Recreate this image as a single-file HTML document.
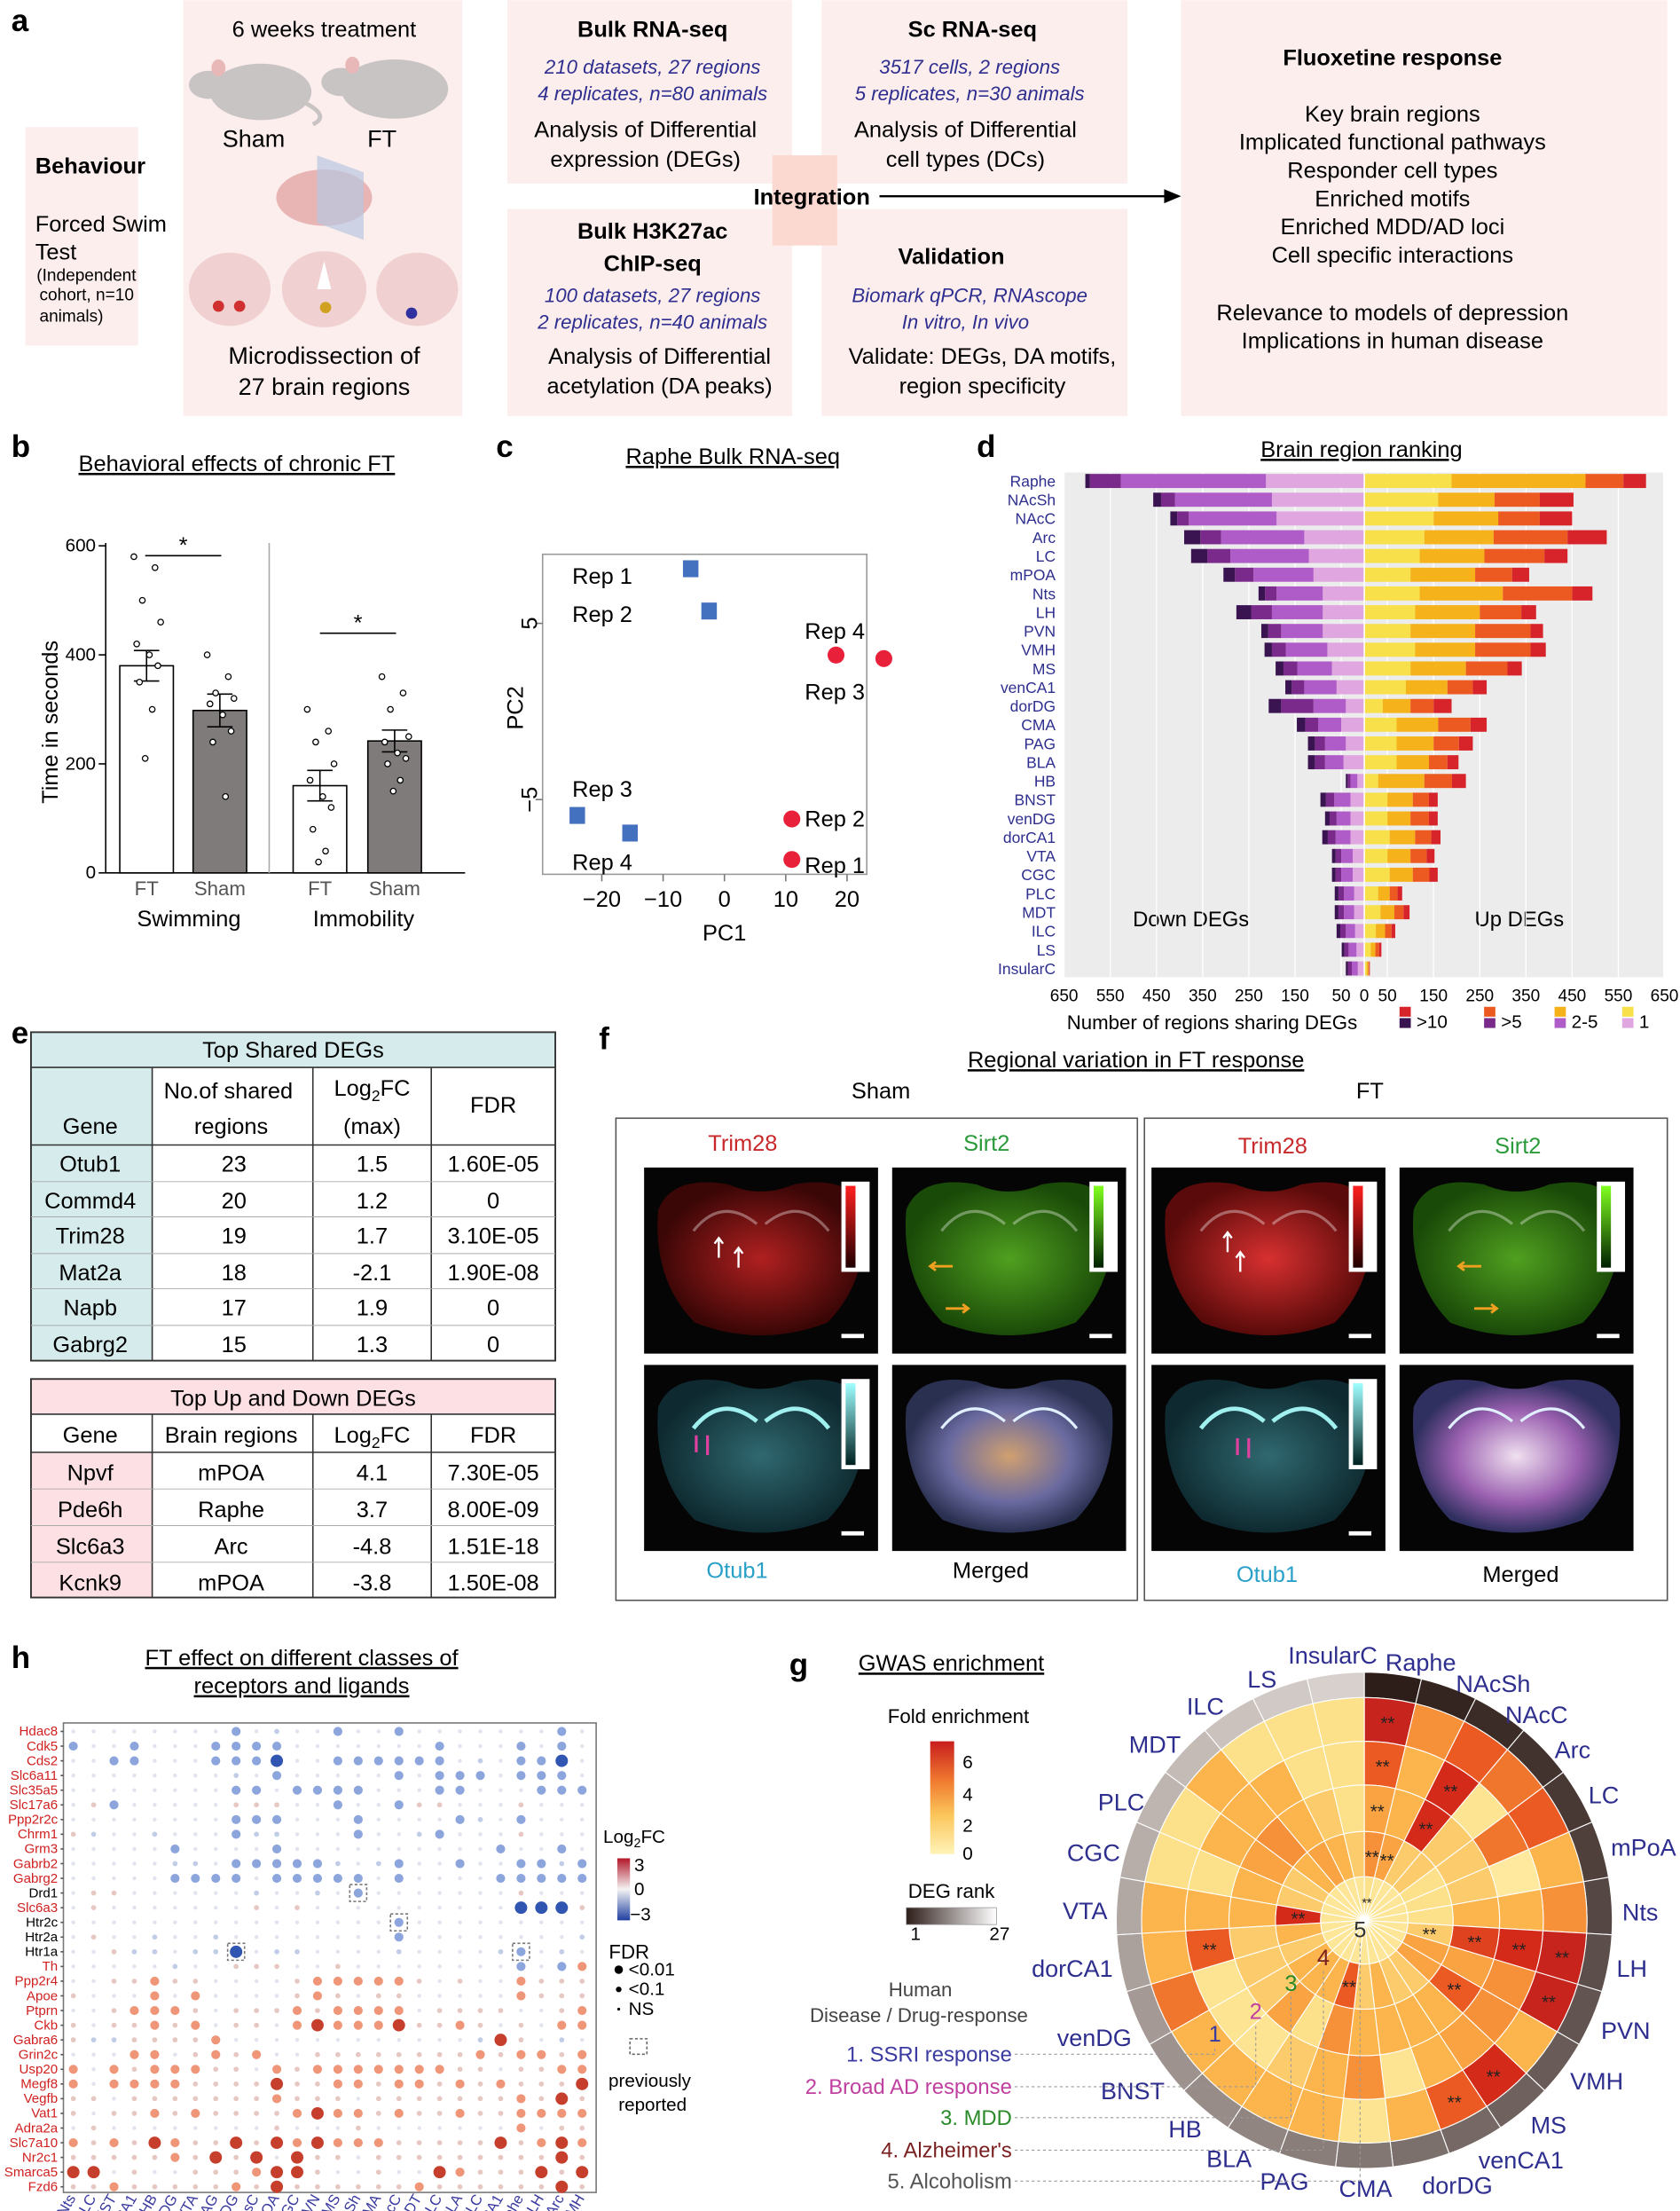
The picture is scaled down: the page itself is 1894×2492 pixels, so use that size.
<!DOCTYPE html>
<html><head><meta charset="utf-8">
<style>
html,body{margin:0;padding:0;background:#fff;}
svg{display:block;font-family:"Liberation Sans",Arial,sans-serif;}
.bt{font-weight:bold;}
.bl{fill:#2e2e8f;font-style:italic;}
</style></head>
<body>
<svg id="fig" width="1894" height="2492" viewBox="0 0 1192 1568" xmlns="http://www.w3.org/2000/svg">
<defs>
<linearGradient id="gRank" x1="0" x2="1" y1="0" y2="0"><stop offset="0" stop-color="#2e1e1a"/><stop offset="1" stop-color="#ffffff"/></linearGradient>
<linearGradient id="gFold" x1="0" x2="0" y1="1" y2="0"><stop offset="0" stop-color="#fff3b8"/><stop offset="0.35" stop-color="#fbc55a"/><stop offset="0.65" stop-color="#f07a30"/><stop offset="1" stop-color="#c81e1e"/></linearGradient>
<linearGradient id="gFC" x1="0" x2="0" y1="0" y2="1"><stop offset="0" stop-color="#b2182b"/><stop offset="0.5" stop-color="#f4f4f4"/><stop offset="1" stop-color="#2040a0"/></linearGradient>
<linearGradient id="cbR" x1="0" x2="0" y1="0" y2="1"><stop offset="0" stop-color="#ff2020"/><stop offset="1" stop-color="#200000"/></linearGradient>
<linearGradient id="cbG" x1="0" x2="0" y1="0" y2="1"><stop offset="0" stop-color="#80ff20"/><stop offset="1" stop-color="#002000"/></linearGradient>
<linearGradient id="cbC" x1="0" x2="0" y1="0" y2="1"><stop offset="0" stop-color="#a0ffff"/><stop offset="1" stop-color="#002020"/></linearGradient>
<radialGradient id="brR"><stop offset="0" stop-color="#b02020"/><stop offset="1" stop-color="#3a0606"/></radialGradient>
<radialGradient id="brR2"><stop offset="0" stop-color="#d83030"/><stop offset="1" stop-color="#5a0a0a"/></radialGradient>
<radialGradient id="brG"><stop offset="0" stop-color="#50a020"/><stop offset="1" stop-color="#1a4a08"/></radialGradient>
<radialGradient id="brC"><stop offset="0" stop-color="#306870"/><stop offset="1" stop-color="#0e2a30"/></radialGradient>
<radialGradient id="brM"><stop offset="0" stop-color="#d0a070"/><stop offset="0.6" stop-color="#6a6aa0"/><stop offset="1" stop-color="#2a3050"/></radialGradient>
<radialGradient id="brM2"><stop offset="0" stop-color="#f0e0f0"/><stop offset="0.6" stop-color="#9a60b0"/><stop offset="1" stop-color="#303060"/></radialGradient>
</defs>

<g>
<text x="8" y="22" font-size="22" class="bt">a</text>
<rect x="18" y="90" width="80" height="155" fill="#fdeeee"/>
<text x="25" y="123" font-size="16" class="bt">Behaviour</text>
<text x="25" y="164" font-size="16">Forced Swim</text>
<text x="25" y="184" font-size="16">Test</text>
<text x="26" y="199" font-size="12">(Independent</text>
<text x="28" y="213" font-size="12">cohort, n=10</text>
<text x="28" y="228" font-size="12">animals)</text>

<rect x="130" y="0" width="198" height="295" fill="#fdeeee"/>
<text x="230" y="26" font-size="16" text-anchor="middle">6 weeks treatment</text>
<g fill="#c9c4c4">
<ellipse cx="185" cy="65" rx="36" ry="20"/><ellipse cx="148" cy="60" rx="14" ry="10"/><ellipse cx="155" cy="48" rx="5" ry="6" fill="#e8b8b8"/><path d="M215 72 Q235 82 222 88" stroke="#c9c4c4" stroke-width="3" fill="none"/>
</g>
<g fill="#c9c4c4">
<ellipse cx="280" cy="63" rx="38" ry="21"/><ellipse cx="242" cy="58" rx="14" ry="10"/><ellipse cx="250" cy="46" rx="5" ry="6" fill="#e8b8b8"/>
</g>
<text x="180" y="104" font-size="17" text-anchor="middle">Sham</text>
<text x="271" y="104" font-size="17" text-anchor="middle">FT</text>
<g>
<ellipse cx="230" cy="140" rx="34" ry="20" fill="#e8b4b4"/><polygon points="225,110 258,122 258,170 225,158" fill="#b8c8e0" opacity="0.7"/>
</g>
<g>
<ellipse cx="163" cy="205" rx="29" ry="26" fill="#f0d0d0"/><circle cx="155" cy="217" r="4" fill="#d03030"/><circle cx="170" cy="217" r="4" fill="#d03030"/>
<ellipse cx="230" cy="205" rx="30" ry="27" fill="#f0d0d0"/><polygon points="230,185 225,205 235,205" fill="#fff"/><circle cx="231" cy="218" r="4" fill="#d0a020"/>
<ellipse cx="296" cy="205" rx="29" ry="26" fill="#f0d0d0"/><circle cx="292" cy="222" r="4" fill="#3030a0"/>
</g>
<text x="230" y="258" font-size="17" text-anchor="middle">Microdissection of</text>
<text x="230" y="280" font-size="17" text-anchor="middle">27 brain regions</text>

<rect x="360" y="0" width="202" height="130" fill="#fdeeee"/>
<text x="463" y="26" font-size="16" class="bt" text-anchor="middle">Bulk RNA-seq</text>
<text x="463" y="52" font-size="14" class="bl" text-anchor="middle">210 datasets, 27 regions</text>
<text x="463" y="71" font-size="14" class="bl" text-anchor="middle">4 replicates, n=80 animals</text>
<text x="458" y="97" font-size="16" text-anchor="middle">Analysis of Differential</text>
<text x="458" y="118" font-size="16" text-anchor="middle">expression (DEGs)</text>

<rect x="583" y="0" width="217" height="130" fill="#fdeeee"/>
<text x="690" y="26" font-size="16" class="bt" text-anchor="middle">Sc RNA-seq</text>
<text x="688" y="52" font-size="14" class="bl" text-anchor="middle">3517 cells, 2 regions</text>
<text x="688" y="71" font-size="14" class="bl" text-anchor="middle">5 replicates, n=30 animals</text>
<text x="685" y="97" font-size="16" text-anchor="middle">Analysis of Differential</text>
<text x="685" y="118" font-size="16" text-anchor="middle">cell types (DCs)</text>

<rect x="360" y="148" width="202" height="147" fill="#fdeeee"/>
<text x="463" y="169" font-size="16" class="bt" text-anchor="middle">Bulk H3K27ac</text>
<text x="463" y="192" font-size="16" class="bt" text-anchor="middle">ChIP-seq</text>
<text x="463" y="214" font-size="14" class="bl" text-anchor="middle">100 datasets, 27 regions</text>
<text x="463" y="233" font-size="14" class="bl" text-anchor="middle">2 replicates, n=40 animals</text>
<text x="468" y="258" font-size="16" text-anchor="middle">Analysis of Differential</text>
<text x="468" y="279" font-size="16" text-anchor="middle">acetylation (DA peaks)</text>

<rect x="583" y="148" width="217" height="147" fill="#fdeeee"/>
<text x="675" y="187" font-size="16" class="bt" text-anchor="middle">Validation</text>
<text x="688" y="214" font-size="14" class="bl" text-anchor="middle">Biomark qPCR, RNAscope</text>
<text x="685" y="233" font-size="14" class="bl" text-anchor="middle">In vitro, In vivo</text>
<text x="697" y="258" font-size="16" text-anchor="middle">Validate: DEGs, DA motifs,</text>
<text x="697" y="279" font-size="16" text-anchor="middle">region specificity</text>

<rect x="548" y="110" width="46" height="64" fill="#fbd8d0"/>
<text x="576" y="145" font-size="16" class="bt" text-anchor="middle">Integration</text>
<line x1="624" y1="139" x2="830" y2="139" stroke="#000" stroke-width="1.5"/>
<polygon points="838,139 826,134 826,144" fill="#000"/>

<rect x="838" y="0" width="345" height="295" fill="#fdeeee"/>
<text x="988" y="46" font-size="16" class="bt" text-anchor="middle">Fluoxetine response</text>
<g font-size="16" text-anchor="middle">
<text x="988" y="86">Key brain regions</text>
<text x="988" y="106">Implicated functional pathways</text>
<text x="988" y="126">Responder cell types</text>
<text x="988" y="146">Enriched motifs</text>
<text x="988" y="166">Enriched MDD/AD loci</text>
<text x="988" y="186">Cell specific interactions</text>
<text x="988" y="227">Relevance to models of depression</text>
<text x="988" y="247">Implications in human disease</text>
</g>
</g>

<g id="panelB">
<text x="8" y="324" font-size="22" class="bt">b</text>
<text x="168" y="334" font-size="16" text-anchor="middle" text-decoration="underline">Behavioral effects of chronic FT</text>
<text x="41" y="512" font-size="16" text-anchor="middle" transform="rotate(-90 41 512)">Time in seconds</text>
<text x="134" y="657" font-size="16" text-anchor="middle">Swimming</text>
<text x="258" y="657" font-size="16" text-anchor="middle">Immobility</text>
</g>

<g id="panelC">
<text x="352" y="324" font-size="22" class="bt">c</text>
<text x="520" y="329" font-size="16" text-anchor="middle" text-decoration="underline">Raphe Bulk RNA-seq</text>
<rect x="385" y="393" width="230" height="227" fill="none" stroke="#999"/>
<text x="514" y="667" font-size="16" text-anchor="middle">PC1</text>
<text x="371" y="502" font-size="16" text-anchor="middle" transform="rotate(-90 371 502)">PC2</text>
</g>

<g id="panelD">
<text x="693" y="324" font-size="22" class="bt">d</text>
<text x="966" y="324" font-size="16" text-anchor="middle" text-decoration="underline">Brain region ranking</text>
<rect x="755" y="335" width="425" height="358" fill="#ececec"/>
<text x="845" y="657" font-size="15" text-anchor="middle">Down DEGs</text>
<text x="1078" y="657" font-size="15" text-anchor="middle">Up DEGs</text>
<text x="860" y="730" font-size="14" text-anchor="middle">Number of regions sharing DEGs</text>
<g font-size="13">
<rect x="993" y="714" width="8" height="7" fill="#d6242a"/><rect x="993" y="722" width="8" height="7" fill="#3a1450"/><text x="1005" y="729">&gt;10</text>
<rect x="1053" y="714" width="8" height="7" fill="#ec5a22"/><rect x="1053" y="722" width="8" height="7" fill="#7a2a8a"/><text x="1065" y="729">&gt;5</text>
<rect x="1103" y="714" width="8" height="7" fill="#f5b21a"/><rect x="1103" y="722" width="8" height="7" fill="#b05cc8"/><text x="1115" y="729">2-5</text>
<rect x="1151" y="714" width="8" height="7" fill="#f7e04a"/><rect x="1151" y="722" width="8" height="7" fill="#e0a6e0"/><text x="1163" y="729">1</text>
</g>
</g>

<g>
<text x="8" y="740" font-size="22" class="bt">e</text>
<g font-size="16">
<rect x="22" y="732" width="372" height="25" fill="#d6ecec"/>
<rect x="22" y="757" width="86" height="208" fill="#d6ecec"/>
<rect x="22" y="732" width="372" height="233" fill="none" stroke="#333" stroke-width="1.2"/>
<line x1="22" y1="757" x2="394" y2="757" stroke="#333"/>
<line x1="22" y1="812" x2="394" y2="812" stroke="#333"/>
<g stroke="#333"><line x1="108" y1="757" x2="108" y2="965"/><line x1="222" y1="757" x2="222" y2="965"/><line x1="306" y1="757" x2="306" y2="965"/></g>
<g stroke="#aaa" stroke-width="0.6"><line x1="22" y1="838" x2="394" y2="838"/><line x1="22" y1="863" x2="394" y2="863"/><line x1="22" y1="889" x2="394" y2="889"/><line x1="22" y1="914" x2="394" y2="914"/><line x1="22" y1="940" x2="394" y2="940"/></g>
<text x="208" y="750" text-anchor="middle">Top Shared DEGs</text>
<text x="64" y="804" text-anchor="middle">Gene</text>
<text x="162" y="779" text-anchor="middle">No.of shared</text><text x="164" y="804" text-anchor="middle">regions</text>
<text x="264" y="777" text-anchor="middle">Log<tspan font-size="11" dy="4">2</tspan><tspan dy="-4">FC</tspan></text><text x="264" y="804" text-anchor="middle">(max)</text>
<text x="350" y="789" text-anchor="middle">FDR</text>
<g text-anchor="middle">
<text x="64" y="831">Otub1</text><text x="166" y="831">23</text><text x="264" y="831">1.5</text><text x="350" y="831">1.60E-05</text>
<text x="64" y="857">Commd4</text><text x="166" y="857">20</text><text x="264" y="857">1.2</text><text x="350" y="857">0</text>
<text x="64" y="882">Trim28</text><text x="166" y="882">19</text><text x="264" y="882">1.7</text><text x="350" y="882">3.10E-05</text>
<text x="64" y="908">Mat2a</text><text x="166" y="908">18</text><text x="264" y="908">-2.1</text><text x="350" y="908">1.90E-08</text>
<text x="64" y="933">Napb</text><text x="166" y="933">17</text><text x="264" y="933">1.9</text><text x="350" y="933">0</text>
<text x="64" y="959">Gabrg2</text><text x="166" y="959">15</text><text x="264" y="959">1.3</text><text x="350" y="959">0</text>
</g>
</g>
<g font-size="16">
<rect x="22" y="978" width="372" height="25" fill="#fde0e4"/>
<rect x="22" y="1030" width="86" height="103" fill="#fde0e4"/>
<rect x="22" y="978" width="372" height="155" fill="none" stroke="#333" stroke-width="1.2"/>
<line x1="22" y1="1003" x2="394" y2="1003" stroke="#333"/>
<line x1="22" y1="1030" x2="394" y2="1030" stroke="#333"/>
<g stroke="#333"><line x1="108" y1="1003" x2="108" y2="1133"/><line x1="222" y1="1003" x2="222" y2="1133"/><line x1="306" y1="1003" x2="306" y2="1133"/></g>
<g stroke="#aaa" stroke-width="0.6"><line x1="22" y1="1056" x2="394" y2="1056"/><line x1="22" y1="1082" x2="394" y2="1082"/><line x1="22" y1="1108" x2="394" y2="1108"/></g>
<text x="208" y="997" text-anchor="middle">Top Up and Down DEGs</text>
<g text-anchor="middle">
<text x="64" y="1023">Gene</text><text x="164" y="1023">Brain regions</text><text x="264" y="1023">Log<tspan font-size="11" dy="4">2</tspan><tspan dy="-4">FC</tspan></text><text x="350" y="1023">FDR</text>
<text x="64" y="1050">Npvf</text><text x="164" y="1050">mPOA</text><text x="264" y="1050">4.1</text><text x="350" y="1050">7.30E-05</text>
<text x="64" y="1076">Pde6h</text><text x="164" y="1076">Raphe</text><text x="264" y="1076">3.7</text><text x="350" y="1076">8.00E-09</text>
<text x="64" y="1102">Slc6a3</text><text x="164" y="1102">Arc</text><text x="264" y="1102">-4.8</text><text x="350" y="1102">1.51E-18</text>
<text x="64" y="1128">Kcnk9</text><text x="164" y="1128">mPOA</text><text x="264" y="1128">-3.8</text><text x="350" y="1128">1.50E-08</text>
</g>
</g>
</g>

<g id="panelF">
<text x="425" y="744" font-size="22" class="bt">f</text>
<text x="806" y="757" font-size="16" text-anchor="middle" text-decoration="underline">Regional variation in FT response</text>
<text x="625" y="779" font-size="16" text-anchor="middle">Sham</text>
<text x="972" y="779" font-size="16" text-anchor="middle">FT</text>
<rect x="437" y="793" width="370" height="342" fill="none" stroke="#555"/>
<rect x="812" y="793" width="371" height="342" fill="none" stroke="#555"/>
<g font-size="16" text-anchor="middle">
<text x="527" y="816" fill="#c8282a">Trim28</text>
<text x="700" y="816" fill="#2a9a3a">Sirt2</text>
<text x="523" y="1119" fill="#2aa0c8">Otub1</text>
<text x="703" y="1119">Merged</text>
<text x="903" y="818" fill="#c8282a">Trim28</text>
<text x="1077" y="818" fill="#2a9a3a">Sirt2</text>
<text x="899" y="1122" fill="#2aa0c8">Otub1</text>
<text x="1079" y="1122">Merged</text>
</g>
</g>

<g id="panelH">
<text x="8" y="1183" font-size="22" class="bt">h</text>
<text x="214" y="1181" font-size="16" text-anchor="middle" text-decoration="underline">FT effect on different classes of</text>
<text x="214" y="1201" font-size="16" text-anchor="middle" text-decoration="underline">receptors and ligands</text>
<rect x="45" y="1222" width="378" height="333" fill="none" stroke="#777"/>
<g font-size="13">
<text x="428" y="1307">Log<tspan font-size="9" dy="3">2</tspan><tspan dy="-3">FC</tspan></text>
<rect x="438" y="1318" width="9" height="44" fill="url(#gFC)"/>
<text x="450" y="1327">3</text><text x="450" y="1344">0</text><text x="447" y="1362">−3</text>
<text x="432" y="1389" font-size="14">FDR</text>
<circle cx="439" cy="1397" r="3"/><text x="446" y="1401">&lt;0.01</text>
<circle cx="439" cy="1411" r="2"/><text x="446" y="1415">&lt;0.1</text>
<circle cx="439" cy="1425" r="1"/><text x="446" y="1429">NS</text>
<rect x="447" y="1446" width="12" height="11" fill="none" stroke="#666" stroke-dasharray="2,1.5"/>
<text x="461" y="1480" text-anchor="middle">previously</text>
<text x="463" y="1497" text-anchor="middle">reported</text>
</g>
</g>

<g id="panelG">
<text x="560" y="1188" font-size="22" class="bt">g</text>
<text x="675" y="1185" font-size="16" text-anchor="middle" text-decoration="underline">GWAS enrichment</text>
<text x="680" y="1222" font-size="14" text-anchor="middle">Fold enrichment</text>
<rect x="660" y="1235" width="17" height="80" fill="url(#gFold)"/>
<g font-size="13"><text x="683" y="1254">6</text><text x="683" y="1277">4</text><text x="683" y="1299">2</text><text x="683" y="1319">0</text></g>
<text x="675" y="1346" font-size="14" text-anchor="middle">DEG rank</text>
<rect x="643" y="1353" width="64" height="12" fill="url(#gRank)" stroke="#999" stroke-width="0.5"/>
<text x="646" y="1376" font-size="13">1</text>
<text x="702" y="1376" font-size="13">27</text>
<text x="653" y="1416" font-size="14" text-anchor="middle" fill="#444">Human</text>
<text x="652" y="1434" font-size="14" text-anchor="middle" fill="#444">Disease / Drug-response</text>
<g font-size="15" text-anchor="end">
<text x="718" y="1462" fill="#3a3aa0">1. SSRI response</text>
<text x="718" y="1485" fill="#c040a0">2. Broad AD response</text>
<text x="718" y="1507" fill="#2a8a2a">3. MDD</text>
<text x="718" y="1530" fill="#7a2020">4. Alzheimer's</text>
<text x="718" y="1552" fill="#555">5. Alcoholism</text>
</g>
</g>
</svg>

<script>
const NS='http://www.w3.org/2000/svg';
function mk(tag,attrs,parent){const e=document.createElementNS(NS,tag);for(const k in attrs)e.setAttribute(k,attrs[k]);parent.appendChild(e);return e;}

/* ---------- Panel b data ---------- */
const bCats=['FT','Sham','FT','Sham'];
const bMeans=[380,298,160,242];
const bSem=[28,30,28,20];
const bDots=[[580,560,500,460,420,400,380,350,300,210],[400,360,330,320,310,290,260,240,140],[300,260,240,200,170,140,120,80,40,20],[360,330,300,250,240,220,210,200,170,150]];
const bTicks=[0,200,400,600];
(function(){
 const g=document.getElementById('panelB');
 const y=v=>619-v*(232/600);
 const cx=[104,156,227,280];
 const ax=mk('line',{x1:75,y1:385,x2:75,y2:619,stroke:'#000'},g);
 
 
 const bx=mk('line',{x1:75,y1:619,x2:330,y2:619,stroke:'#000'},g);
 
 
 const dv=mk('line',{x1:191,y1:385,x2:191,y2:619,stroke:'#aaa'},g);
 
 
 bTicks.forEach(t=>{mk('line',{x1:70,x2:75,y1:y(t),y2:y(t),stroke:'#000'},g);
  const tt=mk('text',{x:68,y:y(t)+4,'font-size':13,'text-anchor':'end'},g);tt.textContent=t;
  
  });
 const jit=[-9,6,-3,10,-7,2,8,-5,4,-1];
 bMeans.forEach((m,i)=>{
  const r=mk('rect',{x:cx[i]-19,y:y(m),width:38,height:619-y(m),fill:i%2?'#7f7b7b':'#fff',stroke:'#000'},g);
  
  
  mk('line',{x1:cx[i],x2:cx[i],y1:y(m+bSem[i]),y2:y(m-bSem[i]),stroke:'#000'},g);
  mk('line',{x1:cx[i]-9,x2:cx[i]+9,y1:y(m+bSem[i]),y2:y(m+bSem[i]),stroke:'#000'},g);
  mk('line',{x1:cx[i]-9,x2:cx[i]+9,y1:y(m-bSem[i]),y2:y(m-bSem[i]),stroke:'#000'},g);
  bDots[i].forEach((d,j)=>{const c=mk('circle',{cx:cx[i]+jit[j%10],cy:y(d),r:2,fill:'#fff',stroke:'#000','stroke-width':0.8},g);
   
   });
  const l=mk('text',{x:cx[i],y:635,'font-size':14,'text-anchor':'middle',fill:'#555'},g);l.textContent=bCats[i];
  
  
 });
 [[103,157,394],[227,281,449]].forEach(s=>{mk('line',{x1:s[0],x2:s[1],y1:s[2],y2:s[2],stroke:'#000'},g);
  const t=mk('text',{x:(s[0]+s[1])/2,y:s[2]-2,'font-size':16,'text-anchor':'middle'},g);t.textContent='*';
  
  });
})();

/* ---------- Panel c data ---------- */
const pcX=[-5.5,-2.5,-24,-15.4,18.2,26,11,11];
const pcY=[8.1,5.7,-5.9,-6.9,3.2,3.0,-6.1,-8.4];
const pcGroup=['FT','FT','FT','FT','Sham','Sham','Sham','Sham'];
const pcLabels=['Rep 1','Rep 2','Rep 3','Rep 4','Rep 4','Rep 3','Rep 2','Rep 1'];
const pcLabelPos=[[406,414],[406,441],[406,565],[406,617],[571,453],[571,496],[571,586],[571,619]];
const pcXTicks=[-20,-10,0,10,20];
const pcYTicks=[5,-5];
(function(){
 const g=document.getElementById('panelC');
 const X=v=>514+v*4.35, Y=v=>504.5-v*12.5;
 pcXTicks.forEach(t=>{mk('line',{x1:X(t),x2:X(t),y1:620,y2:625,stroke:'#777'},g);
  const tt=mk('text',{x:X(t),y:643,'font-size':16,'text-anchor':'middle'},g);tt.textContent=t<0?'−'+(-t):t;
  
  });
 pcYTicks.forEach(t=>{mk('line',{x1:380,x2:385,y1:Y(t),y2:Y(t),stroke:'#777'},g);
  const tt=mk('text',{x:381,y:Y(t),'font-size':16,'text-anchor':'middle',transform:`rotate(-90 381 ${Y(t)})`},g);tt.textContent=t<0?'−'+(-t):t;
  
  });
 pcX.forEach((v,i)=>{let e;
  if(pcGroup[i]==='FT'){e=mk('rect',{x:X(v)-5.5,y:Y(pcY[i])-6,width:11,height:12,fill:'#4470c0'},g);}
  else{e=mk('circle',{cx:X(v),cy:Y(pcY[i]),r:6,fill:'#e8203a'},g);}
  
  
  const t=mk('text',{x:pcLabelPos[i][0],y:pcLabelPos[i][1],'font-size':16},g);t.textContent=pcLabels[i];
  
  
 });
})();

/* ---------- Panel d data ---------- */
const dRegions=['Raphe','NAcSh','NAcC','Arc','LC','mPOA','Nts','LH','PVN','VMH','MS','venCA1','dorDG','CMA','PAG','BLA','HB','BNST','venDG','dorCA1','VTA','CGC','PLC','MDT','ILC','LS','InsularC'];
const downC1=[213,200,190,130,120,110,90,90,90,80,70,60,40,50,40,45,15,30,30,30,25,25,22,22,20,17,14];
const downC25=[314,210,190,180,170,130,100,110,90,90,75,70,70,50,45,40,15,35,30,32,25,25,22,22,20,17,13];
const downC5=[67,30,25,45,50,40,25,45,28,30,30,27,70,28,22,22,6,18,15,17,12,12,12,12,12,9,8];
const downC10=[10,17,15,35,35,25,14,32,15,16,17,14,27,18,15,15,4,12,10,12,8,8,8,8,8,6,5];
const upC1=[189,160,150,130,120,100,120,110,100,110,100,90,40,70,70,70,30,50,50,55,50,55,30,35,25,14,5];
const upC25=[290,122,140,150,140,140,180,140,140,130,120,90,60,90,80,70,100,55,50,55,50,50,25,30,20,10,4];
const upC5=[82,98,90,160,130,80,150,90,120,120,90,55,50,70,55,40,60,35,40,35,35,36,17,20,14,8,2];
const upC10=[49,73,70,85,50,37,44,32,27,33,31,30,39,35,30,24,30,19,19,20,17,18,10,13,8,5,1];
const dTicks=[650,550,450,350,250,150,50,0,50,150,250,350,450,550,650];
const dTickSide=[-1,-1,-1,-1,-1,-1,-1,0,1,1,1,1,1,1,1];
(function(){
 const g=document.getElementById('panelD');
 const k=213/650, c=968;
 const rowY=i=>341+i*13.3;
 dTicks.forEach((t,i)=>{const x=c+dTickSide[i]*t*k;
  mk('line',{x1:x,x2:x,y1:335,y2:693,stroke:'#fff','stroke-width':0.8},g);
  const tt=mk('text',{x:x,y:710,'font-size':12,'text-anchor':'middle'},g);tt.textContent=t;
  
  });
 const dCols=['#e0a6e0','#b05cc8','#7a2a8a','#3a1450'], uCols=['#f7e04a','#f5b21a','#ec5a22','#d6242a'];
 dRegions.forEach((r,i)=>{
  const y=rowY(i);
  const lt=mk('text',{x:749,y:y+4,'font-size':11,'text-anchor':'end',fill:'#2e2e8f'},g);lt.textContent=r;
  
  
  let acc=0;[downC1[i],downC25[i],downC5[i],downC10[i]].forEach((v,j)=>{
   const b=mk('rect',{x:c-(acc+v)*k,y:y-5,width:v*k,height:10,fill:dCols[j]},g);
   
   acc+=v;});
  acc=0;[upC1[i],upC25[i],upC5[i],upC10[i]].forEach((v,j)=>{
   const b=mk('rect',{x:c+acc*k,y:y-5,width:v*k,height:10,fill:uCols[j]},g);
   
   acc+=v;});
 });
 mk('line',{x1:c,x2:c,y1:335,y2:693,stroke:'#fff','stroke-width':1},g);
})();

/* ---------- Panel f images ---------- */
(function(){
 const g=document.getElementById('panelF');
 const imgs=[[457,828,'brR','cbR','sham-trim28-image'],[633,828,'brG','cbG','sham-sirt2-image'],[457,968,'brC','cbC','sham-otub1-image'],[633,968,'brM',null,'sham-merged-image'],
  [817,828,'brR2','cbR','ft-trim28-image'],[993,828,'brG','cbG','ft-sirt2-image'],[817,968,'brC','cbC','ft-otub1-image'],[993,968,'brM2',null,'ft-merged-image']];
 imgs.forEach(m=>{
  const [x,y,br,cb,name]=m;
  const grp=mk('g',{},g);
  
  
  mk('rect',{x:x,y:y,width:166,height:132,fill:'#050505'},grp);
  mk('path',{d:`M${x+10} ${y+30} Q${x+20} ${y+5} ${x+60} ${y+12} Q${x+83} ${y+22} ${x+106} ${y+12} Q${x+146} ${y+5} ${x+156} ${y+30} Q${x+160} ${y+80} ${x+130} ${y+110} Q${x+83} ${y+128} ${x+36} ${y+110} Q${x+6} ${y+80} ${x+10} ${y+30}Z`,fill:`url(#${br})`},grp);
  const hc=br==='brC'?'#a0f0f0':(br.startsWith('brM')?'#e0f0ff':'rgba(255,255,255,0.35)');
  mk('path',{d:`M${x+35} ${y+45} Q${x+55} ${y+20} ${x+80} ${y+40} M${x+86} ${y+40} Q${x+111} ${y+20} ${x+131} ${y+45}`,stroke:hc,'stroke-width':br==='brC'?3:2,fill:'none'},grp);
  if(cb){mk('rect',{x:x+140,y:y+10,width:20,height:64,fill:'#fff'},grp);mk('rect',{x:x+143,y:y+13,width:7,height:58,fill:`url(#${cb})`},grp);}
  if(!br.startsWith('brM'))mk('rect',{x:x+140,y:y+118,width:16,height:3,fill:'#fff'},grp);
 });
 [[510,878],[524,885],[871,874],[880,888]].forEach(a=>{const ar=mk('path',{d:`M${a[0]} ${a[1]+14} L${a[0]} ${a[1]} M${a[0]-3} ${a[1]+4} L${a[0]} ${a[1]} L${a[0]+3} ${a[1]+4}`,stroke:'#fff','stroke-width':1.5,fill:'none'},g);
  
  });
 [[668,898,-1],[679,928,1],[1043,898,-1],[1054,928,1]].forEach(a=>{const ar=mk('path',{d:`M${a[0]-8*a[2]} ${a[1]} L${a[0]+8*a[2]} ${a[1]} M${a[0]+4*a[2]} ${a[1]-3} L${a[0]+8*a[2]} ${a[1]} L${a[0]+4*a[2]} ${a[1]+3}`,stroke:'#f0a020','stroke-width':1.8,fill:'none'},g);
  
  });
 [[494,1018],[878,1020]].forEach(a=>{const ar=mk('path',{d:`M${a[0]} ${a[1]+12} L${a[0]} ${a[1]} M${a[0]+8} ${a[1]+14} L${a[0]+8} ${a[1]}`,stroke:'#e040a0','stroke-width':2,fill:'none'},g);
  
  });
})();

/* ---------- Panel h data ---------- */
const hGenes=['Hdac8','Cdk5','Cds2','Slc6a11','Slc35a5','Slc17a6','Ppp2r2c','Chrm1','Grm3','Gabrb2','Gabrg2','Drd1','Slc6a3','Htr2c','Htr2a','Htr1a','Th','Ppp2r4','Apoe','Ptprn','Ckb','Gabra6','Grin2c','Usp20','Megf8','Vegfb','Vat1','Adra2a','Slc7a10','Nr2c1','Smarca5','Fzd6'];
const hGeneBlack=['Drd1','Htr2c','Htr2a','Htr1a'];
const hRegions=['Nts','LC','BNST','venCA1','HB','venDG','VTA','PAG','dorDG','InsC','mPOA','CGC','PVN','MS','NAcSh','CMA','NAcC','MDT','PLC','BLA','ILC','dorCA1','Raphe','LH','Arc','VMH'];
/* codes: '.'=0, a/b/c = -0.6/-1.6/-2.6, 1/2/3 = +0.6/+1.6/+2.6 */
const hRows=[
'........b.a..b..b.......b.',
'b..b...bbbb.......b...b.b.',
'..bb...bbbc..bbbbbb.a.bbc.',
'........a.b.....b.bbb.bbb.',
'........bb.bbbb...bb...bbb',
'.1b.....111..b..b11...1...',
'........bbb...b....ba.b...',
'1a..a...baa...b..ab...1...',
'.....b....b..........b..b.',
'.....aa.bbbbba.ab..b..bbab',
'.....bbbb.bbbbb.b....bbbbb',
'.11......a..a.b.......1...',
'.1.......1.1..........ccc1',
'................b.........',
'.1..a..a........b........a',
'..1aa.aac.aa....a....ab.a.',
'.....a..111..1........b.b2',
'..11211....1222221.1..2111',
'1...2.2....121.11.....2111',
'..12221.111212222.1111..12',
'1.11212.11.2322231121.1.22',
'1aa11112............a31.a.',
'...22.1212..111111112122121',
'2.2122211.21222222211.1122',
'2.22221111311221221212111322',
'11.11111112111.11111112131',
'1.112121111232212112112222',
'.1........1...1.......2.11',
'21213211313232221111131232',
'1111121313.311.11111111131',
'33.1..1112331..1..32111313',
'11211111213111111211111131'];
const hPrev=[['Drd1','NAcSh'],['Htr2c','NAcC'],['Htr1a','dorDG'],['Htr1a','Raphe']];
(function(){
 const g=document.getElementById('panelH');
 const X=j=>52+j*14.44, Y=i=>1228+i*10.42;
 const vmap={'.':0,'a':-0.6,'b':-1.6,'c':-2.6,'1':0.6,'2':1.6,'3':2.6};
 const val=ch=>vmap[ch]||0;
 const mix=(a,b,t)=>'rgb('+a.map((v,i)=>Math.round(v+(b[i]-v)*t)).join(',')+')';
 const col=v=>{const W=[225,228,238];if(v>=0){return v<1.6?mix(W,[240,150,120],v/1.6):mix([240,150,120],[190,45,30],(v-1.6)/1.2);}
  const u=-v;return u<1.6?mix(W,[140,165,220],u/1.6):mix([140,165,220],[30,70,170],(u-1.6)/1.2);};
 hGenes.forEach((gn,i)=>{
  const t=mk('text',{x:41,y:Y(i)+3,'font-size':9.5,'text-anchor':'end',fill:hGeneBlack.includes(gn)?'#000':'#d02020'},g);t.textContent=gn;
  
  
  mk('line',{x1:43,x2:45,y1:Y(i),y2:Y(i),stroke:'#555'},g);
  const row=hRows[i];
  hRegions.forEach((r,j)=>{const v=val(row[j]||'.');const a=Math.abs(v);
   const c=mk('circle',{cx:X(j),cy:Y(i),r:a===0?1.4:(a<1?1.8:(a<2?3.2:4.4)),fill:col(v)},g);
   
   });
 });
 hRegions.forEach((r,j)=>{const ax=X(j)+2, ay=1559;
  const t=mk('text',{x:ax,y:ay,'font-size':10.5,'text-anchor':'end',fill:'#3a3aa0',transform:`rotate(-60 ${ax} ${ay})`},g);t.textContent=r;
  
  });
 hPrev.forEach(p=>{const i=hGenes.indexOf(p[0]),j=hRegions.indexOf(p[1]);
  const b=mk('rect',{x:X(j)-6,y:Y(i)-6,width:12,height:12,fill:'none',stroke:'#777','stroke-dasharray':'2,1.5'},g);
  
  });
})();

/* ---------- Panel g data ---------- */
const gRegions=['Raphe','NAcSh','NAcC','Arc','LC','mPoA','Nts','LH','PVN','VMH','MS','venCA1','dorDG','CMA','PAG','BLA','HB','BNST','venDG','dorCA1','VTA','CGC','PLC','MDT','ILC','LS','InsularC'];
const gSSRI=[6,3.5,4.5,4,4.5,2.5,3.5,6,6,2.5,5.5,4.5,2.5,1.2,2.5,2.5,2.5,2.5,4,2.5,2.5,1.5,1.5,2.5,1.5,1.5,1.5];
const gAD=[4.5,2.5,5.5,1.2,4,0.8,2.5,5.5,3.5,3.5,3,2.5,1.2,3.5,2.5,2,1.2,1.2,1.2,4.5,2.5,1.5,2.5,2.5,2.5,1.5,1.5];
const gMDD=[3,2.5,5.5,2,2,2,2.5,5,3,4.5,2.5,2.5,2.5,2.5,3.5,1.5,3,2,2,2,2.5,2.5,3,3.5,2.5,2,1.5];
const gAlz=[3.5,3,2,2,1.5,1.5,1.5,2,3,3,2,2,2.5,2,4.5,2.5,2.5,2.5,2,2.5,5.5,2,2,2.5,3,2.5,2];
const gAlc=[1.5,1,1,1,1,1,1,1,1,1,1,1,1,1,1,1,1,1,1,1,1,1,1,1,1,1,1];
const gSig=[[0,0],[0,1],[0,2],[0,3],[0,4],[1,3],[2,1],[2,2],[7,0],[7,1],[7,2],[7,3],[8,0],[9,2],[10,0],[11,0],[14,3],[19,1],[20,3]];
/* layout: label anchor positions (not data) */
const gLabelPos=[[983,1185],[1033,1200],[1068,1222],[1103,1247],[1127,1279],[1143,1316],[1151,1362],[1147,1402],[1136,1446],[1114,1482],[1086,1513],[1049,1538],[1009,1556],[950,1558],[894,1553],[856,1537],[829,1516],[781,1489],[750,1451],[732,1402],[754,1361],[757,1320],[779,1284],[801,1243],[842,1216],[885,1197],[914,1180]];
(function(){
 const g=document.getElementById('panelG');
 const cx=968, cy=1362, R=[158,127,96,63,31,0], RO=176;
 const n=gRegions.length, da=2*Math.PI/n;
 const P=(r,a)=>[cx+r*Math.sin(a),cy-r*Math.cos(a)];
 const wedge=(r0,r1,a0,a1)=>{const p1=P(r1,a0),p2=P(r1,a1),p3=P(r0,a1),p4=P(r0,a0);
  return `M${p1[0]} ${p1[1]} A${r1} ${r1} 0 0 1 ${p2[0]} ${p2[1]} L${p3[0]} ${p3[1]} `+(r0>0?`A${r0} ${r0} 0 0 0 ${p4[0]} ${p4[1]}`:'')+'Z';};
 const stops=[[0,[255,243,184]],[1.5,[253,224,138]],[2.5,[251,181,76]],[3.5,[246,145,58]],[4.5,[234,90,34]],[5.5,[212,42,26]],[6.5,[184,30,30]]];
 const fc=v=>{for(let s=1;s<stops.length;s++){if(v<=stops[s][0]){const a=stops[s-1],b=stops[s],t=(v-a[0])/(b[0]-a[0]);return 'rgb('+a[1].map((c,i)=>Math.round(c+(b[1][i]-c)*t)).join(',')+')';}}return 'rgb(184,30,30)';};
 const rings=[gSSRI,gAD,gMDD,gAlz,gAlc];
 gRegions.forEach((reg,i)=>{
  const a0=i*da,a1=(i+1)*da;
  const t=i/(n-1);const rc=Math.round(46+(216-46)*t),gc=Math.round(30+(208-30)*t),bc=Math.round(26+(204-26)*t);
  const rk=mk('path',{d:wedge(R[0],RO,a0,a1),fill:`rgb(${rc},${gc},${bc})`,stroke:'#fff','stroke-width':0.7},g);
  
  
  rings.forEach((arr,k)=>{const c=mk('path',{d:wedge(R[k+1],R[k],a0,a1),fill:fc(arr[i]),stroke:'#fff','stroke-width':0.7},g);
   
   });
  const lp=gLabelPos[i];
  const lt=mk('text',{x:lp[0],y:lp[1],'font-size':17,'text-anchor':'start',fill:'#2e2e8f'},g);lt.textContent=reg;
  
  
 });
 gSig.forEach(s=>{const am=(s[0]+0.5)*da;const rm=(R[s[1]]+R[s[1]+1])/2;const p=P(rm,am);
  const t=mk('text',{x:p[0],y:p[1]+6,'font-size':s[1]===4?9:13,'text-anchor':'middle',fill:'#222'},g);t.textContent='**';
  
  });
 const ringLab=[['1',862,1448,'#3a3aa0'],['2',891,1432,'#c040a0'],['3',916,1412,'#2a8a2a'],['4',939,1394,'#7a2020'],['5',965,1374,'#333']];
 ringLab.forEach(r=>{const t=mk('text',{x:r[1],y:r[2],'font-size':16,'text-anchor':'middle',fill:r[3]},g);t.textContent=r[0];
  
  });
 const leads=[[720,1457,862,1457],[720,1480,891,1480],[720,1502,916,1502],[720,1525,939,1525],[720,1547,965,1547]];
 leads.forEach((l,k)=>{const pl=mk('path',{d:`M${l[0]} ${l[1]} L${l[2]} ${l[3]} L${l[2]} ${ringLab[k][2]+4}`,fill:'none',stroke:'#999','stroke-width':0.7,'stroke-dasharray':'2,2'},g);
  
  });
})();
</script>
</body></html>
